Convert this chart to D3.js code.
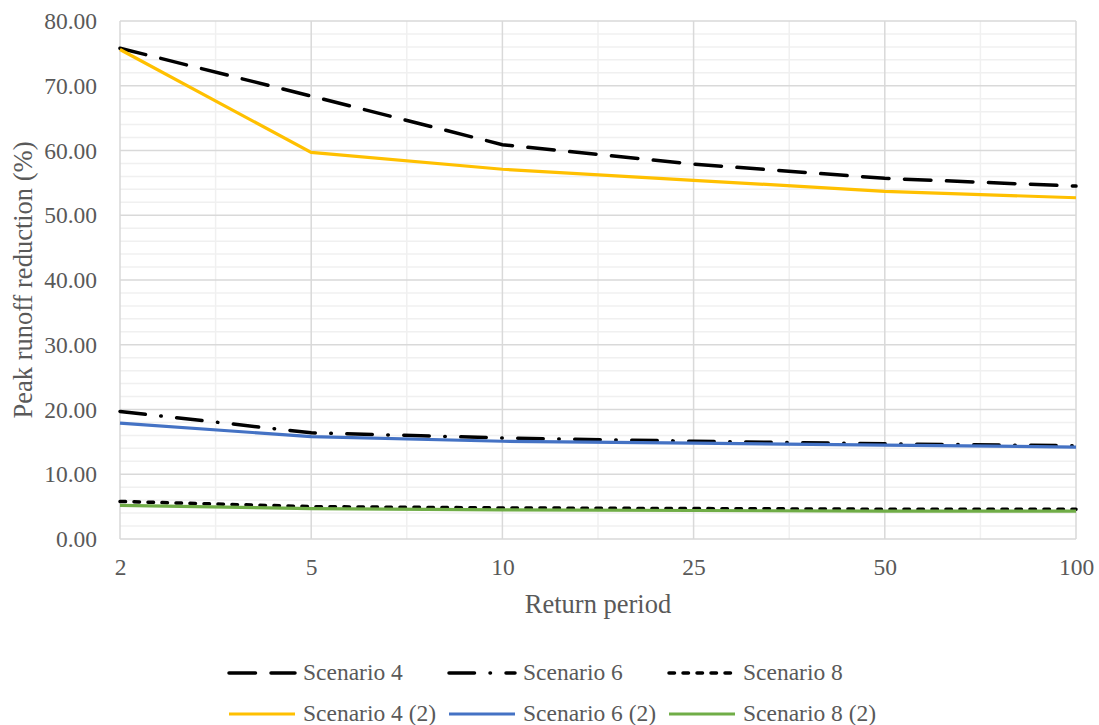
<!DOCTYPE html>
<html>
<head>
<meta charset="utf-8">
<script src="https://cdn.jsdelivr.net/npm/d3@7"></script>
</head>
<body style="margin:0; background:#fff">
<div id="graph"></div>
<script>
var width = 1099, height = 725;
var margin = { top: 21, right: 23, bottom: 186, left: 120 };
var serif = '"Liberation Serif", "Times New Roman", serif';

// data
const periods = ["2", "5", "10", "25", "50", "100"];
const scenario4 = [75.8, 68.4, 60.9, 57.9, 55.7, 54.5];
const scenario6 = [19.7, 16.4, 15.6, 15.1, 14.7, 14.4];
const scenario8 = [5.8, 5.0, 4.8, 4.7, 4.6, 4.6];
const scenario4b = [75.6, 59.7, 57.1, 55.4, 53.7, 52.7];
const scenario6b = [17.9, 15.8, 15.1, 14.8, 14.5, 14.2];
const scenario8b = [5.2, 4.7, 4.5, 4.4, 4.3, 4.3];
const yTicks = [0, 10, 20, 30, 40, 50, 60, 70, 80];

const series = [
  { name: "Scenario 4", values: scenario4, color: "#000", dash: "26.5,15.5", w: 3.5 },
  { name: "Scenario 6", values: scenario6, color: "#000", dash: "25.5,15.5,0.5,15.5", w: 3.5 },
  { name: "Scenario 8", values: scenario8, color: "#000", dash: "5.5,8.5", w: 3.5 },
  { name: "Scenario 4 (2)", values: scenario4b, color: "#FFC000", dash: null, w: 3.2 },
  { name: "Scenario 6 (2)", values: scenario6b, color: "#4472C4", dash: null, w: 3.2 },
  { name: "Scenario 8 (2)", values: scenario8b, color: "#70AD47", dash: null, w: 3.2 }
];

const x = d3.scalePoint().domain(periods).range([margin.left, width - margin.right]);
const y = d3.scaleLinear().domain([0, 80]).range([height - margin.bottom, margin.top]);

const svg = d3.select("#graph").append("svg")
    .attr("width", width)
    .attr("height", height)
    .style("display", "block");

// minor gridlines
const step = x.step();
const minorX = periods.slice(0, -1).map(p => x(p) + step / 2);
svg.append("g").selectAll("line")
  .data(minorX)
  .join("line")
    .attr("x1", d => d).attr("x2", d => d)
    .attr("y1", y(0)).attr("y2", y(80))
    .attr("stroke", "#f0f0f0").attr("stroke-width", 1.5);
svg.append("g").selectAll("line")
  .data(d3.range(0, 81, 2).filter(v => v % 10 !== 0))
  .join("line")
    .attr("x1", x.range()[0]).attr("x2", x.range()[1])
    .attr("y1", d => y(d)).attr("y2", d => y(d))
    .attr("stroke", "#f0f0f0").attr("stroke-width", 1.5);

// major gridlines
svg.append("g").selectAll("line")
  .data(yTicks)
  .join("line")
    .attr("x1", x.range()[0]).attr("x2", x.range()[1])
    .attr("y1", d => y(d)).attr("y2", d => y(d))
    .attr("stroke", "#d9d9d9").attr("stroke-width", 1.5);
svg.append("g").selectAll("line")
  .data(periods)
  .join("line")
    .attr("x1", d => x(d)).attr("x2", d => x(d))
    .attr("y1", y(0)).attr("y2", y(80))
    .attr("stroke", "#d9d9d9").attr("stroke-width", 1.5);

// axes labels
svg.append("g")
    .attr("transform", `translate(${margin.left},0)`)
    .attr("font-family", null)
    .call(d3.axisLeft(y).tickValues(yTicks).tickFormat(d3.format(".2f")).tickSize(0).tickPadding(23))
    .call(g => g.select(".domain").remove())
    .call(g => g.attr("font-family", serif))
    .selectAll("text")
    .style("font-family", serif)
    .style("font-size", "23.5px")
    .attr("fill", "#595959");

svg.append("g")
    .attr("transform", `translate(0,${y(0)})`)
    .call(d3.axisBottom(x).tickSize(0).tickPadding(0))
    .call(g => g.select(".domain").remove())
    .call(g => g.attr("font-family", serif))
    .selectAll("text")
    .attr("dy", null)
    .attr("y", 36)
    .style("font-family", serif)
    .style("font-size", "23.5px")
    .attr("fill", "#595959");

svg.append("text")
    .attr("x", (x.range()[0] + x.range()[1]) / 2)
    .attr("y", 613)
    .attr("text-anchor", "middle")
    .style("font-family", serif)
    .style("font-size", "26.5px")
    .attr("fill", "#595959")
    .text("Return period");

svg.append("text")
    .attr("transform", `translate(32,${(y(0) + y(80)) / 2}) rotate(-90)`)
    .attr("text-anchor", "middle")
    .style("font-family", serif)
    .style("font-size", "26.5px")
    .attr("fill", "#595959")
    .text("Peak runoff reduction (%)");

// lines
const line = d3.line()
    .x((d, i) => x(periods[i]))
    .y(d => y(d));

svg.append("g").selectAll("path")
  .data(series)
  .join("path")
    .attr("d", d => line(d.values))
    .attr("fill", "none")
    .attr("stroke", d => d.color)
    .attr("stroke-width", d => d.w)
    .attr("stroke-dasharray", d => d.dash)
    .attr("stroke-linecap", d => d.dash ? "round" : "butt");

// legend
const legend = svg.append("g");
const item = legend.selectAll("g")
  .data(series)
  .join("g")
    .attr("transform", (d, i) => `translate(${227 + (i % 3) * 220},${673 + Math.floor(i / 3) * 41})`);
item.append("line")
    .attr("x1", 2).attr("x2", 68)
    .attr("stroke", d => d.color)
    .attr("stroke-width", d => d.w)
    .attr("stroke-dasharray", d => d.dash)
    .attr("stroke-linecap", d => d.dash ? "round" : "butt");
item.append("text")
    .attr("x", 76)
    .attr("y", 7)
    .style("font-family", serif)
    .style("font-size", "23.5px")
    .attr("fill", "#595959")
    .text(d => d.name);
</script>
</body>
</html>
